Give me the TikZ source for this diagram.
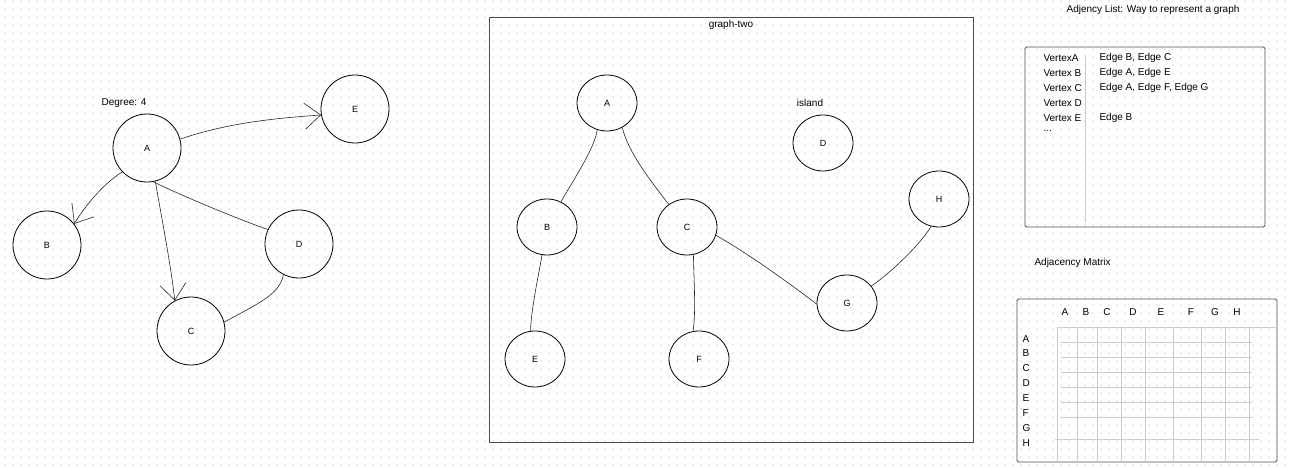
\documentclass[tikz,border=0pt]{standalone}
\usepackage{fontspec}
\setmainfont{Liberation Sans}
\usetikzlibrary{shapes.geometric, arrows.meta}

\begin{document}
\begin{tikzpicture}[x=1pt, y=-1pt,
    every node/.style={font=\fontsize{10}{12}\selectfont},
    vertex/.style={draw, circle, line width=0.8pt, minimum size=68pt, inner sep=0pt, font=\fontsize{9}{11}\selectfont},
    oval/.style={draw, ellipse, line width=0.8pt, minimum width=60pt, minimum height=56pt, inner sep=0pt, font=\fontsize{9}{11}\selectfont},
    link/.style={line width=0.6pt, black!85},
    arrowlink/.style={link, -{Straight Barb[length=16pt, width=26pt, line width=0.6pt]}},
    frame/.style={draw=black!70, line width=0.9pt},
    matline/.style={black!20, line width=0.9pt},
    dotrow/.style={black!7, line width=1.5pt, dash pattern=on 1.5pt off 6.5pt, dash phase=4pt}]
    \useasboundingbox (0,0) rectangle (1289,468);
    \foreach \r in {0,...,58}
        \draw[dotrow] (0,1+8*\r) -- (1289,1+8*\r);

    % first graph
    \node[] (degree) at (124,103) {Degree: 4};
    \node[vertex] (A) at (147,148) {A};
    \node[vertex] (E) at (355,109) {E};
    \node[vertex] (B) at (47,245)  {B};
    \node[vertex] (D) at (299,244) {D};
    \node[vertex] (C) at (191,331) {C};

    \draw[arrowlink] (A.15) .. controls (230,122) and (280,118) .. (E.190);
    \draw[arrowlink] (A.224) .. controls (103,184) and (86,205) .. (B.38);
    \draw[arrowlink] (A.-76) .. controls (162,220) and (170,260) .. (C.118);
    \draw[link] (A.-79) .. controls (175,193) and (240,220) .. (D.155);
    \draw[link] (C.15) .. controls (255,305) and (280,295) .. (D.243);

    % graph-two
    \draw[frame] (489,17) rectangle (973,442);
    \node[] (title2) at (731,25) {graph-two};
    \node[] (island) at (810,103) {island};
    \node[oval] (A2) at (607,103) {A};
    \node[oval] (B2) at (547,227) {B};
    \node[oval] (C2) at (687,227) {C};
    \node[oval] (D2) at (823,143) {D};
    \node[oval] (H2) at (939,199) {H};
    \node[oval] (G2) at (847,303) {G};
    \node[oval] (E2) at (535,359) {E};
    \node[oval] (F2) at (699,359) {F};

    \draw[link] (A2.-110) .. controls (595,148) and (572,182) .. (B2.61);
    \draw[link] (A2.-58) .. controls (628,152) and (650,180) .. (C2.129);
    \draw[link] (B2.-100) .. controls (538,278) and (531,310) .. (E2.99);
    \draw[link] (C2.-77) .. controls (694,285) and (696,310) .. (F2.102);
    \draw[link] (C2.-16) .. controls (750,255) and (785,280) .. (G2.182);
    \draw[link] (G2.35) .. controls (884,278) and (918,248) .. (H2.-106);

    % adjacency list
    \node[] (listtitle) at (1153,10) {Adjency List: Way to represent a graph};
    \draw[frame, rounded corners=1.5pt] (1025,47) rectangle (1265,227);
    \draw[matline] (1085,55) -- (1085,222);
    \node[anchor=west] (vA) at (1040,58)  {VertexA};
    \node[anchor=west] (vB) at (1040,73)  {Vertex B};
    \node[anchor=west] (vC) at (1040,88)  {Vertex C};
    \node[anchor=west] (vD) at (1040,103) {Vertex D};
    \node[anchor=west] (vE) at (1040,118) {Vertex E};
    \node[anchor=west] (vdots) at (1040,131) {...};
    \node[anchor=west] (eA) at (1096,58)  {Edge B, Edge C};
    \node[anchor=west] (eB) at (1096,73)  {Edge A, Edge E};
    \node[anchor=west] (eC) at (1096,88)  {Edge A, Edge F, Edge G};
    \node[anchor=west] (eE) at (1096,118) {Edge B};

    % adjacency matrix
    \node[anchor=west] (mattitle) at (1031,263) {Adjacency Matrix};
    \draw[frame, rounded corners=1.5pt] (1017,299) rectangle (1277,462);
    \draw[matline] (1057,327) -- (1277,327);
    \foreach \x in {1057,1077,1097,1121,1145,1173,1201,1225,1249}
        \draw[matline] (\x,327) -- (\x,462);
    \foreach \y in {342,357,372,387,402,417}
        \draw[matline] (1061,\y) -- (1252,\y);
    \draw[matline] (1055,439) -- (1259,439);
    \foreach \l/\x in {A/1065,B/1086,C/1107,D/1133,E/1161,F/1191,G/1215,H/1237}
        \node[] (col\l) at (\x,312) {\l};
    \foreach \l/\y in {A/339,B/353,C/368,D/383,E/398,F/413,G/428,H/443}
        \node[anchor=west] (row\l) at (1019,\y) {\l};
\end{tikzpicture}
\end{document}
